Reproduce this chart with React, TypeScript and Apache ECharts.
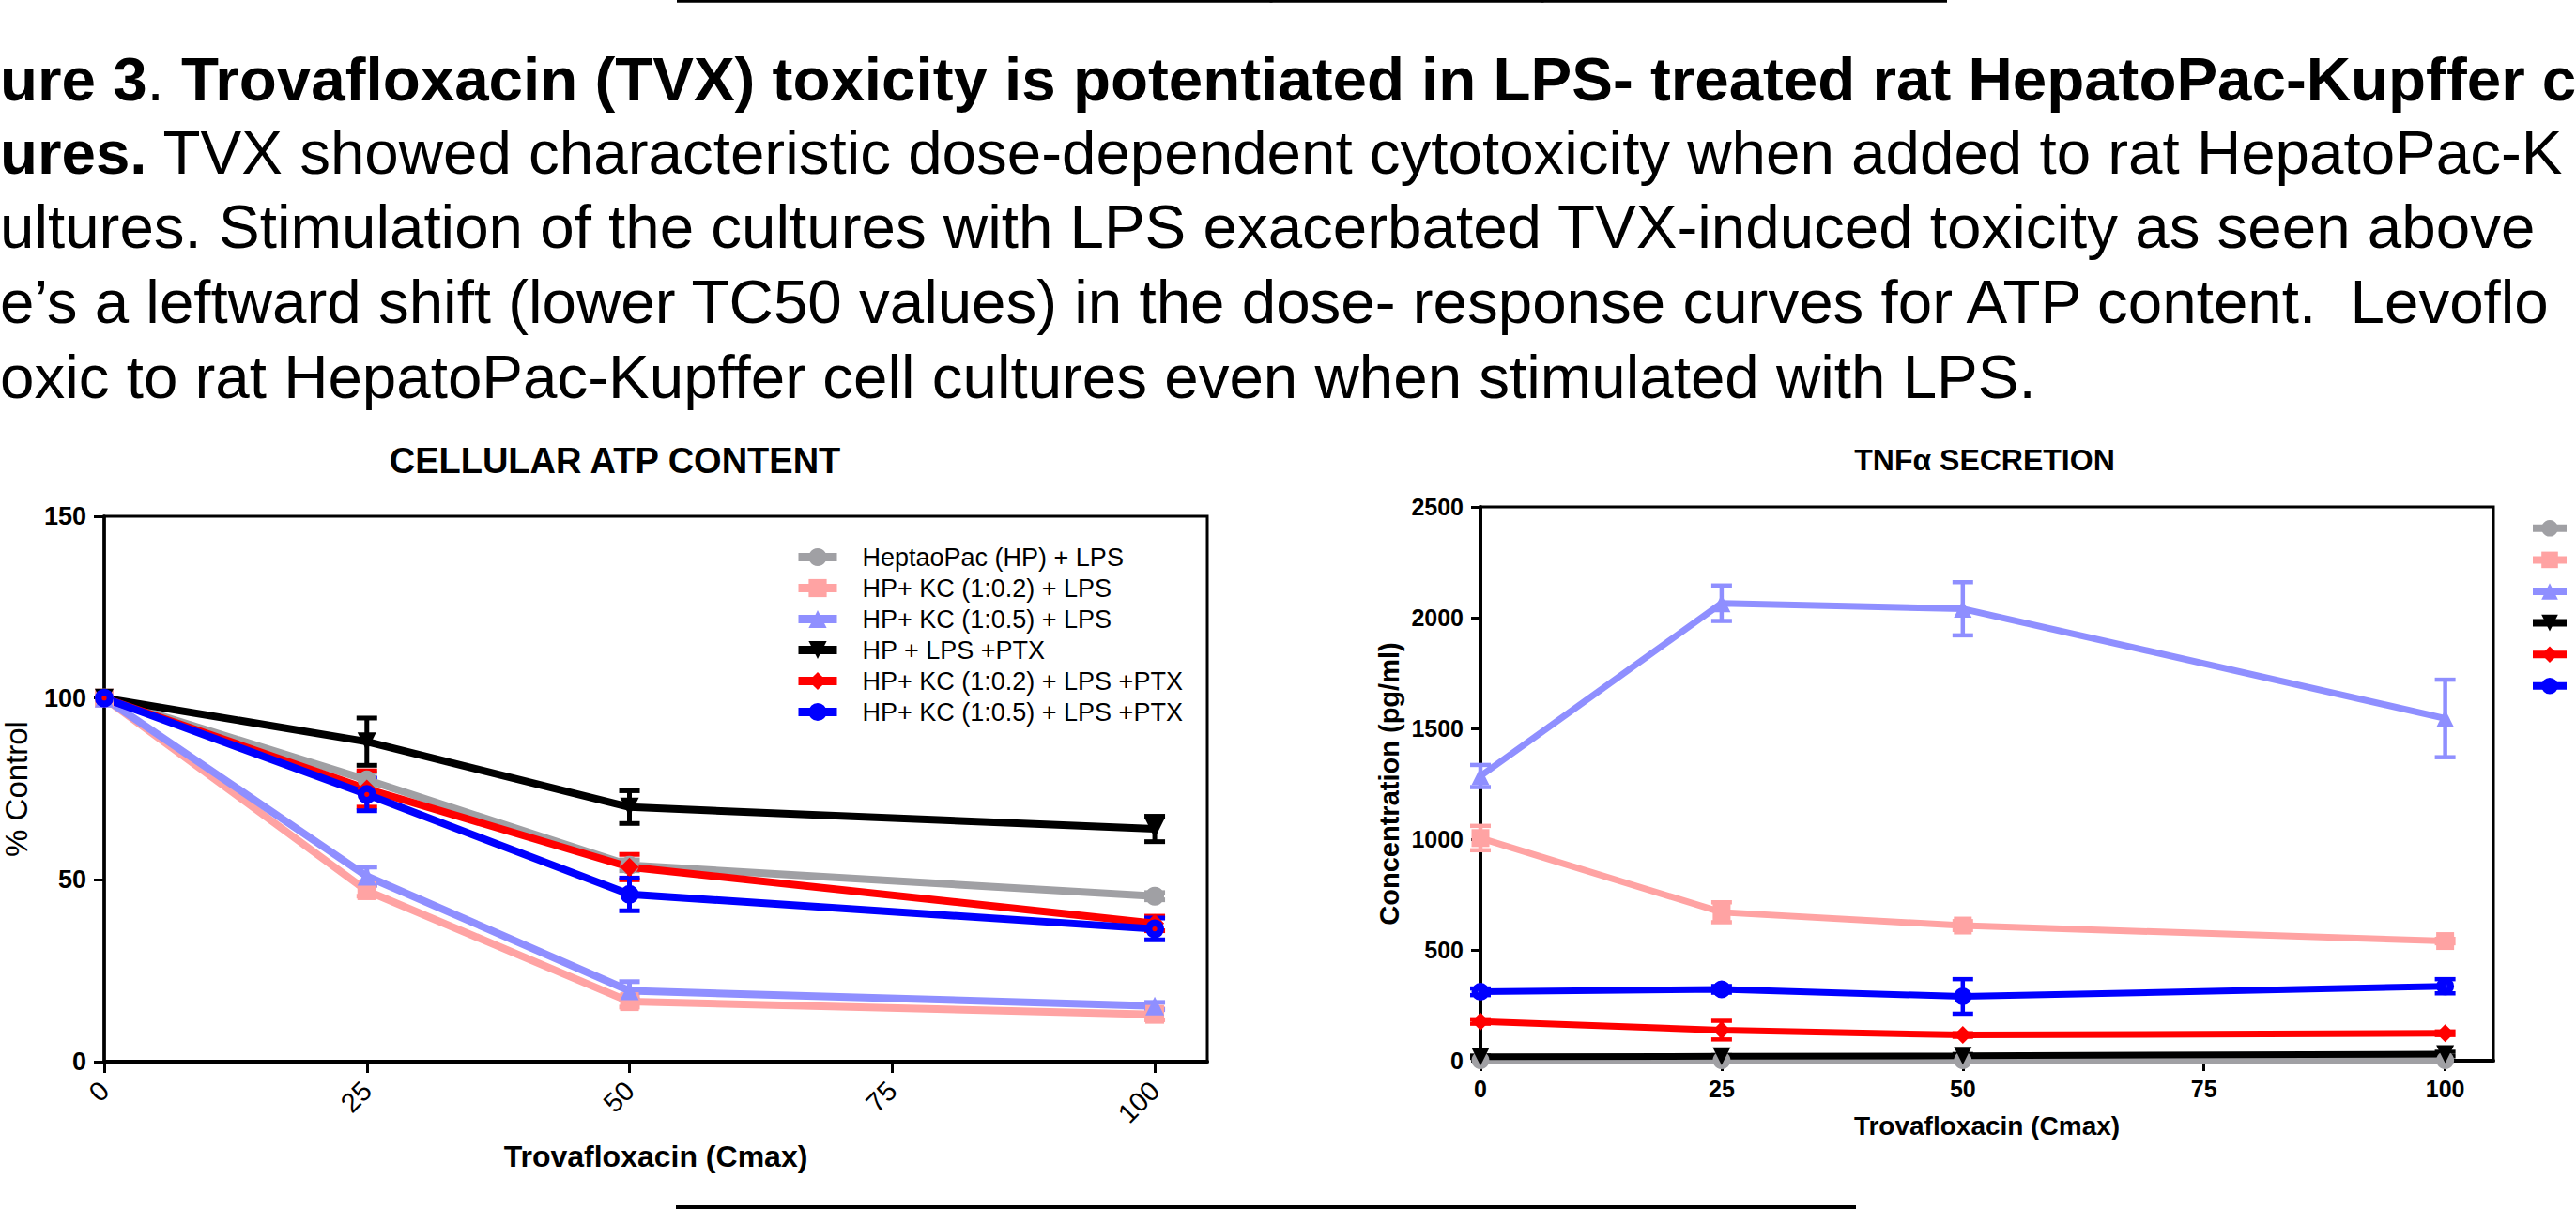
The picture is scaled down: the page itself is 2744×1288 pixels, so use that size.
import React, { useEffect, useRef } from 'react';
import * as echarts from 'echarts';

const FONT = "'Liberation Sans', Arial, Helvetica, sans-serif";

// ---- data ----
const doses = [0, 25, 50, 100];
const xTicks = [0, 25, 50, 75, 100];

const seriesNames = [
  'HeptaoPac (HP) + LPS',
  'HP+ KC (1:0.2) + LPS',
  'HP+ KC (1:0.5) + LPS',
  'HP + LPS +PTX',
  'HP+ KC (1:0.2) + LPS +PTX',
  'HP+ KC (1:0.5) + LPS +PTX',
];
const seriesColors = ['#a0a0a4', '#ffa3a3', '#8f8fff', '#000000', '#ff0000', '#0000ff'];
const dotCircle = 'path://M0,-10A10,10 0 1,1 0,10A10,10 0 1,1 0,-10ZM0,-2.6A2.6,2.6 0 1,0 0,2.6A2.6,2.6 0 1,0 0,-2.6Z';
const seriesSymbols = ['circle', 'rect', 'triangle', 'triangle', 'diamond', dotCircle];
const seriesRotate = [0, 0, 0, 180, 0, 0];

// Cellular ATP content (% control)
const atpGray = [100, 77.5, 54, 45.5];
const atpGrayErr = [0, 2, 1.5, 1];
const atpPink = [100, 47, 16.5, 13];
const atpPinkErr = [0, 1.5, 1.5, 1.5];
const atpLavender = [100, 51, 19.5, 15.3];
const atpLavenderErr = [0, 2.5, 2.5, 1];
const atpBlack = [100, 88, 70, 64];
const atpBlackErr = [0, 6.5, 4.5, 3.5];
const atpRed = [100, 75, 53.5, 38];
const atpRedErr = [0, 5, 3.5, 2];
const atpBlue = [100, 73.5, 46, 36.5];
const atpBlueErr = [0, 4.5, 4.5, 3];

// TNF-alpha secretion (pg/ml)
const tnfGray = [2, 2, 2, 2];
const tnfGrayErr = [0, 0, 0, 0];
const tnfPink = [1005, 670, 610, 540];
const tnfPinkErr = [55, 45, 20, 10];
const tnfLavender = [1285, 2065, 2040, 1545];
const tnfLavenderErr = [50, 80, 120, 175];
const tnfBlack = [18, 20, 22, 30];
const tnfBlackErr = [5, 5, 8, 10];
const tnfRed = [177, 138, 116, 124];
const tnfRedErr = [10, 42, 8, 8];
const tnfBlue = [311, 322, 290, 336];
const tnfBlueErr = [15, 15, 78, 32];

const atpYTicks = { min: 0, max: 150, interval: 50 };
const tnfYTicks = { min: 0, max: 2500, interval: 500 };

const captionLines = [
  '{b|ure 3}{n|. }{b|Trovafloxacin (TVX) toxicity is potentiated in LPS- treated rat HepatoPac-Kupffer c}',
  '{b|ures.}{n| TVX showed characteristic dose-dependent cytotoxicity when added to rat HepatoPac-K}',
  '{n|ultures. Stimulation of the cultures with LPS exacerbated TVX-induced toxicity as seen above}',
  '{n|e\u2019s a leftward shift (lower TC50 values) in the dose- response curves for ATP content.  Levoflo}',
  '{n|oxic to rat HepatoPac-Kupffer cell cultures even when stimulated with LPS.}',
];
const captionBaselines = [107, 185, 264, 344, 424];

const atpMeans = [atpGray, atpPink, atpLavender, atpBlack, atpRed, atpBlue];
const atpErrs = [atpGrayErr, atpPinkErr, atpLavenderErr, atpBlackErr, atpRedErr, atpBlueErr];
const tnfMeans = [tnfGray, tnfPink, tnfLavender, tnfBlack, tnfRed, tnfBlue];
const tnfErrs = [tnfGrayErr, tnfPinkErr, tnfLavenderErr, tnfBlackErr, tnfRedErr, tnfBlueErr];

function errRender(color: string, lw: number, cap: number) {
  return (params: any, api: any) => {
    const x = api.value(0);
    const lo = api.value(1);
    const hi = api.value(2);
    const a = api.coord([x, lo]);
    const b = api.coord([x, hi]);
    const st = { stroke: color, lineWidth: lw };
    return {
      type: 'group',
      children: [
        { type: 'line', shape: { x1: a[0], y1: a[1], x2: b[0], y2: b[1] }, style: st },
        { type: 'line', shape: { x1: a[0] - cap, y1: a[1], x2: a[0] + cap, y2: a[1] }, style: st },
        { type: 'line', shape: { x1: b[0] - cap, y1: b[1], x2: b[0] + cap, y2: b[1] }, style: st },
      ],
    };
  };
}

function buildSeries(means: number[][], errs: number[][], axisIndex: number, lineWidth: number, symbolSize: number, errWidth: number) {
  const out: any[] = [];
  means.forEach((vals, k) => {
    const color = seriesColors[k];
    const errData = doses
      .map((d, i) => [d, vals[i] - errs[k][i], vals[i] + errs[k][i]])
      .filter((r) => r[2] - r[1] > 0);
    out.push({
      type: 'custom',
      name: 'err-' + axisIndex + '-' + k,
      xAxisIndex: axisIndex,
      yAxisIndex: axisIndex,
      coordinateSystem: 'cartesian2d',
      renderItem: errRender(color, errWidth, 11),
      encode: { x: 0, y: [1, 2] },
      data: errData,
      clip: false,
      silent: true,
    });
    out.push({
      type: 'line',
      name: seriesNames[k],
      xAxisIndex: axisIndex,
      yAxisIndex: axisIndex,
      data: doses.map((d, i) => [d, vals[i]]),
      symbol: seriesSymbols[k],
      symbolSize: symbolSize,
      symbolRotate: seriesRotate[k],
      showAllSymbol: true,
      clip: false,
      lineStyle: { color, width: lineWidth },
      itemStyle: { color, borderWidth: 0 },
      emphasis: { disabled: true },
    });
  });
  return out;
}

export default function App() {
  const ref = useRef<HTMLDivElement>(null);
  useEffect(() => {
    if (!ref.current) return;
    const chart = echarts.init(ref.current, null, { renderer: 'svg' });

    const captionGraphics = captionLines.map((t, i) => ({
      type: 'text',
      x: 0,
      y: captionBaselines[i] - 23,
      style: {
        text: t,
        fill: '#000',
        fontFamily: FONT,
        fontSize: 65.5,
        align: 'left',
        textAlign: 'left',
        verticalAlign: 'middle',
        textVerticalAlign: 'middle',
        rich: {
          b: { fontSize: 65.5, fontWeight: 'bold', fontFamily: FONT, fill: '#000', lineHeight: 66 },
          n: { fontSize: 65.5, fontWeight: 'normal', fontFamily: FONT, fill: '#000', lineHeight: 66 },
        },
      },
    }));

    const axisCommon = {
      axisLine: { show: true, onZero: false, lineStyle: { color: '#000', width: 4 } },
      splitLine: { show: false },
    };
    const plain = (v: number) => String(v);

    const option: any = {
      animation: false,
      backgroundColor: '#fff',
      textStyle: { fontFamily: FONT, color: '#000' },
      grid: [
        { left: 93, top: 550, width: 1193, height: 581, show: true, borderColor: '#000', borderWidth: 3, backgroundColor: 'transparent' },
        { left: 1577, top: 540, width: 1079, height: 590, show: true, borderColor: '#000', borderWidth: 3, backgroundColor: 'transparent' },
      ],
      xAxis: [
        {
          ...axisCommon,
          type: 'value',
          gridIndex: 0,
          min: 0,
          max: 105,
          axisTick: { show: true, length: 12, customValues: xTicks, lineStyle: { color: '#000', width: 3 } },
          axisLabel: { customValues: xTicks, formatter: plain, rotate: 45, margin: 26, fontSize: 29, fontWeight: 'normal', color: '#000', fontFamily: FONT },
          name: 'Trovafloxacin (Cmax)',
          nameLocation: 'middle',
          nameGap: 85,
          nameTextStyle: { fontSize: 32, fontWeight: 'bold', color: '#000', fontFamily: FONT },
        },
        {
          ...axisCommon,
          type: 'value',
          gridIndex: 1,
          min: 0,
          max: 105,
          axisTick: { show: true, length: 11, customValues: xTicks, lineStyle: { color: '#000', width: 3 } },
          axisLabel: { customValues: xTicks, formatter: plain, margin: 17, fontSize: 25, fontWeight: 'bold', color: '#000', fontFamily: FONT },
          name: 'Trovafloxacin (Cmax)',
          nameLocation: 'middle',
          nameGap: 55,
          nameTextStyle: { fontSize: 28, fontWeight: 'bold', color: '#000', fontFamily: FONT },
        },
      ],
      yAxis: [
        {
          ...axisCommon,
          axisLine: { show: true, onZero: false, lineStyle: { color: '#000', width: 3.5 } },
          type: 'value',
          gridIndex: 0,
          min: atpYTicks.min,
          max: atpYTicks.max,
          interval: atpYTicks.interval,
          axisTick: { show: true, length: 11, lineStyle: { color: '#000', width: 3 } },
          axisLabel: { formatter: plain, margin: 19, fontSize: 27, fontWeight: 'bold', color: '#000', fontFamily: FONT },
          name: '% Control',
          nameLocation: 'middle',
          nameGap: 77,
          nameTextStyle: { fontSize: 33, fontWeight: 'normal', color: '#000', fontFamily: FONT },
        },
        {
          ...axisCommon,
          type: 'value',
          gridIndex: 1,
          min: tnfYTicks.min,
          max: tnfYTicks.max,
          interval: tnfYTicks.interval,
          axisTick: { show: true, length: 10, lineStyle: { color: '#000', width: 3 } },
          axisLabel: { formatter: plain, margin: 18, fontSize: 25, fontWeight: 'bold', color: '#000', fontFamily: FONT },
          name: 'Concentration (pg/ml)',
          nameLocation: 'middle',
          nameGap: 83,
          nameTextStyle: { fontSize: 29, fontWeight: 'bold', color: '#000', fontFamily: FONT },
        },
      ],
      legend: [
        {
          data: seriesNames,
          orient: 'vertical',
          left: 846,
          top: 580,
          itemWidth: 41,
          itemHeight: 24,
          itemGap: 6,
          selectedMode: false,
          padding: 0,
          lineStyle: { width: 9 },
          textStyle: { fontSize: 27, color: '#000', lineHeight: 27, fontFamily: FONT, padding: [0, 0, 0, 22] },
        },
        {
          data: seriesNames,
          orient: 'vertical',
          left: 2694,
          top: 554,
          itemWidth: 36,
          itemHeight: 22,
          itemGap: 16,
          selectedMode: false,
          padding: 0,
          lineStyle: { width: 8 },
          formatter: () => '',
          textStyle: { fontSize: 24, color: '#000', lineHeight: 24, fontFamily: FONT },
        },
      ],
      graphic: [
        ...captionGraphics,
        {
          type: 'text',
          x: 655,
          y: 491,
          style: { text: 'CELLULAR ATP CONTENT', fill: '#000', fontFamily: FONT, fontSize: 38, fontWeight: 'bold', align: 'center', textAlign: 'center', verticalAlign: 'middle', textVerticalAlign: 'middle' },
        },
        {
          type: 'text',
          x: 2114,
          y: 490,
          style: { text: 'TNF\u03b1 SECRETION', fill: '#000', fontFamily: FONT, fontSize: 32, fontWeight: 'bold', align: 'center', textAlign: 'center', verticalAlign: 'middle', textVerticalAlign: 'middle' },
        },
        { type: 'line', shape: { x1: 721, y1: 1.2, x2: 2074, y2: 1.2 }, style: { stroke: '#000', lineWidth: 3 } },
        { type: 'line', shape: { x1: 1354, y1: 0, x2: 1354, y2: 2.5 }, style: { stroke: '#000', lineWidth: 3 } },
        { type: 'line', shape: { x1: 1643, y1: 0, x2: 1643, y2: 2.5 }, style: { stroke: '#000', lineWidth: 3 } },
        { type: 'rect', shape: { x: 720, y: 1284, width: 1257, height: 4 }, style: { fill: '#000' } },
      ],
      series: [
        ...buildSeries(atpMeans, atpErrs, 0, 8, 20, 5),
        ...buildSeries(tnfMeans, tnfErrs, 1, 7, 19, 4.5),
      ],
    };

    chart.setOption(option);
    return () => {
      chart.dispose();
    };
  }, []);

  return (
    <div
      ref={ref}
      style={{ position: 'fixed', left: 0, top: 0, width: '2744px', height: '1288px', background: '#fff' }}
    />
  );
}
